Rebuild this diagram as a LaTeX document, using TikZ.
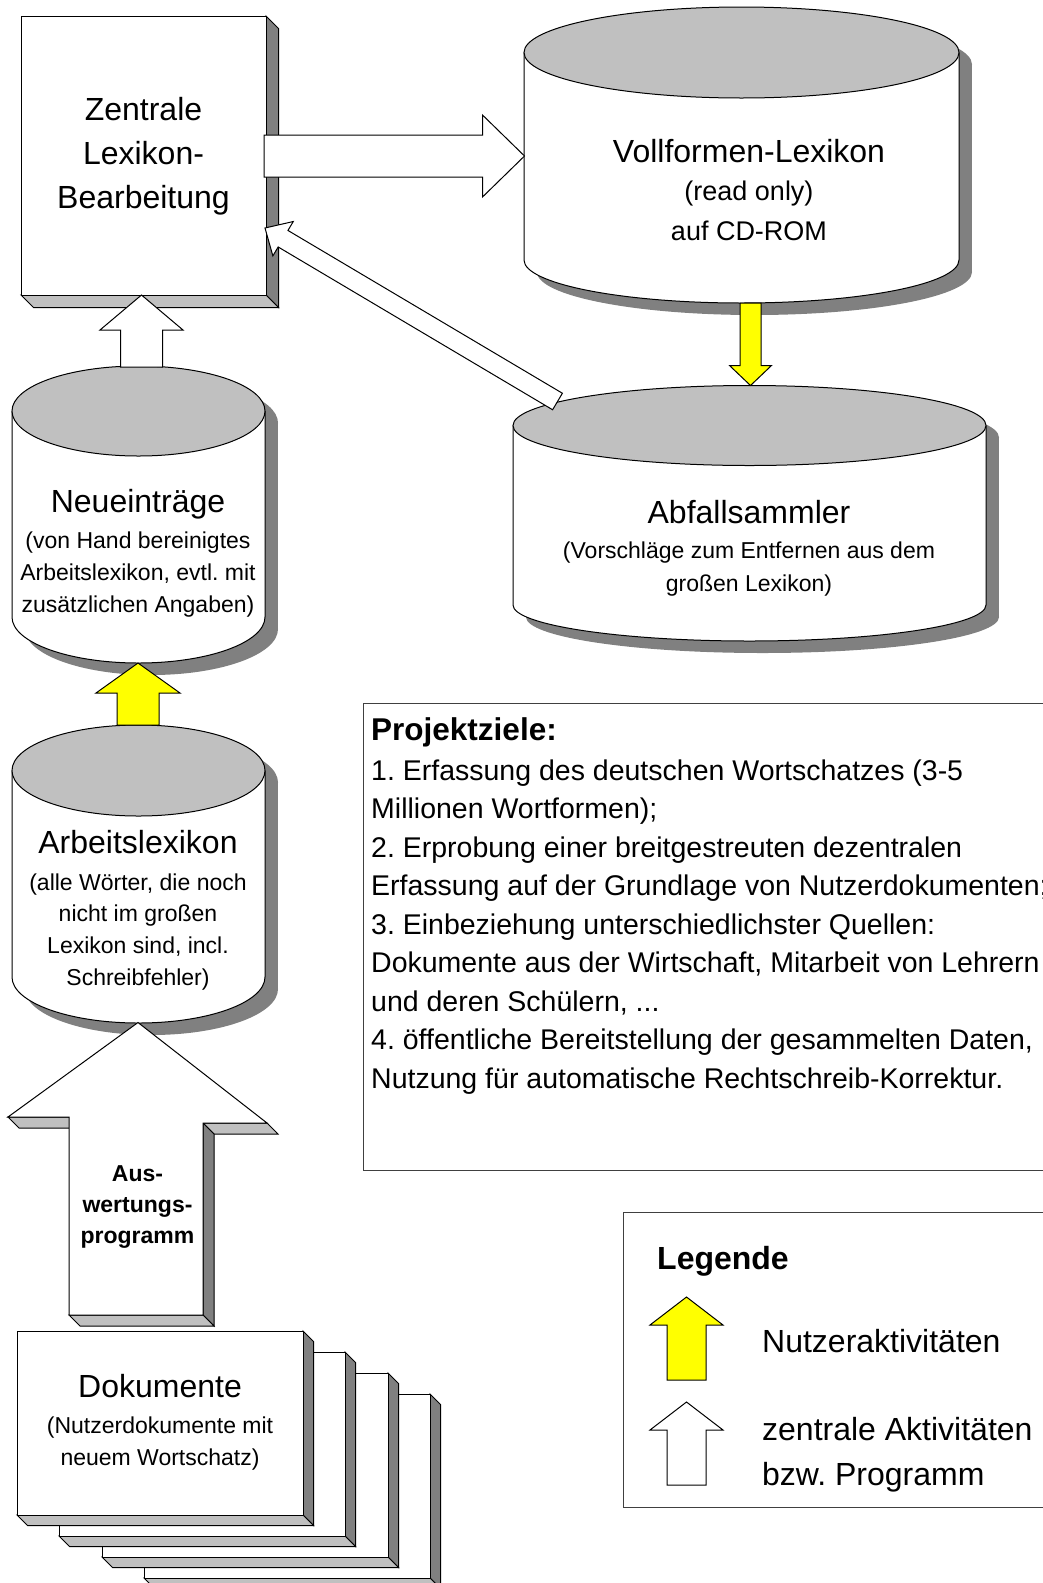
\documentclass[tikz,border=0pt]{standalone}
\usepackage{fontspec}
\setmainfont{Liberation Sans}
\usetikzlibrary{calc}
\definecolor{topgray}{HTML}{C0C0C0}
\definecolor{darkface}{HTML}{808080}
\definecolor{ylw}{HTML}{FFFF00}
\definecolor{framec}{HTML}{404040}
\frenchspacing
\newcommand\lns[1]{\begin{tabular}[t]{@{}c@{}}#1\end{tabular}}
\newcommand\lnsl[1]{\begin{tabular}[t]{@{}l@{}}#1\end{tabular}}
% fat block arrow: style, from, to, half shaft, half head, head length
\newcommand\fatarrow[6]{%
  \coordinate (fa-s) at (#2);
  \coordinate (fa-e) at (#3);
  \coordinate (fa-n) at ($(fa-e)!#6!(fa-s)$);
  \draw[#1] ($(fa-s)!#4!90:(fa-e)$) -- ($(fa-n)!#4!90:(fa-e)$) -- ($(fa-n)!#5!90:(fa-e)$) -- (fa-e)
    -- ($(fa-n)!#5!-90:(fa-e)$) -- ($(fa-n)!#4!-90:(fa-e)$) -- ($(fa-s)!#4!-90:(fa-e)$) -- cycle;
}
% cylinder: cx, ytop, ybot, rx, ry top, ry bottom
\newcommand\dbcyl[6]{%
  \begin{scope}[shift={(13,12)}]
    \fill[darkface] ({#1-#4},#2) rectangle ({#1+#4},#3);
    \fill[darkface] (#1,#2) ellipse[x radius=#4, y radius=#5];
    \fill[darkface] (#1,#3) ellipse[x radius=#4, y radius=#6];
  \end{scope}
  \fill[white] ({#1-#4},#2) -- ({#1-#4},#3) arc[start angle=180,end angle=0,x radius=#4,y radius=#6] -- ({#1+#4},#2) -- cycle;
  \draw[ln] ({#1-#4},#2) -- ({#1-#4},#3) arc[start angle=180,end angle=0,x radius=#4,y radius=#6] -- ({#1+#4},#2);
  \draw[ln, fill=topgray] (#1,#2) ellipse[x radius=#4, y radius=#5];
}
% 3D box: x1,y1,x2,y2,depth
\newcommand\boxthree[5]{%
  \draw[ln, fill=darkface] (#3,#2) -- ++(#5,#5) -- ({#3+#5},{#4+#5}) -- (#3,#4) -- cycle;
  \draw[ln, fill=topgray] (#1,#4) -- (#3,#4) -- ++(#5,#5) -- ({#1+#5},{#4+#5}) -- cycle;
  \draw[ln, fill=white] (#1,#2) rectangle (#3,#4);
}
\tikzset{
  ln/.style={draw=black, line width=1pt, line join=miter},
  frameline/.style={draw=framec, line width=1pt},
  ttl/.style={inner sep=0pt, anchor=base, font=\fontsize{32}{44}\selectfont},
  sub/.style={inner sep=0pt, anchor=base, font=\fontsize{23}{32}\selectfont},
}
\begin{document}
\begin{tikzpicture}[x=1pt,y=-1pt]
\clip (0,0) rectangle (1043,1583);
\fill[white] (0,0) rectangle (1043,1583);

% ---- Zentrale Lexikon-Bearbeitung
\boxthree{21}{16}{266}{295}{12.5}
\node[ttl] (zent) at (143.5,120) {\lns{Zentrale\\Lexikon-\\Bearbeitung}};

% ---- cylinders
\dbcyl{741.5}{52.5}{260}{217.5}{45.5}{43}
\node[ttl] (voll-title) at (749,162) {Vollformen-Lexikon};
\node[sub, font=\fontsize{27}{40}\selectfont] (voll-text) at (749,200) {\lns{(read only)\\auf CD-ROM}};

\dbcyl{749.5}{425.5}{605}{236.5}{40}{36}
\node[ttl] (abf-title) at (749,523) {Abfallsammler};
\node[sub, font=\fontsize{23}{33}\selectfont] (abf-text) at (749,558) {\lns{(Vorschläge zum Entfernen aus dem\\großen Lexikon)}};

\dbcyl{138.5}{411}{617}{126.5}{45}{46}
\node[ttl] (neu-title) at (138,512) {Neueinträge};
\node[sub] (neu-text) at (138,548) {\lns{(von Hand bereinigtes\\Arbeitslexikon, evtl. mit\\zusätzlichen Angaben)}};

\dbcyl{138.5}{770.5}{977}{126.5}{45.5}{46}
\node[ttl] (arb-title) at (138,853) {Arbeitslexikon};
\node[sub, font=\fontsize{23}{31.7}\selectfont] (arb-text) at (138,890) {\lns{(alle Wörter, die noch\\nicht im großen\\Lexikon sind, incl.\\Schreibfehler)}};

% ---- Dokumente stack
\boxthree{144}{1394}{430}{1578}{10.5}
\boxthree{102}{1373}{388}{1557}{10.5}
\boxthree{59}{1352}{345}{1536}{10.5}
\boxthree{17}{1331}{303}{1515}{10.5}
\node[ttl] (dok-title) at (160,1397) {Dokumente};
\node[sub] (dok-text) at (160,1433) {\lns{(Nutzerdokumente mit\\neuem Wortschatz)}};

% ---- connection points
\coordinate (zent-e) at (264,156);
\coordinate (voll-w) at (524.5,156);
\coordinate (zent-se) at (265,228);
\coordinate (abf-nw) at (557.5,401.5);
\coordinate (zent-s) at (141.5,295);
\coordinate (neu-n) at (141.5,367);
\coordinate (neu-s) at (138,663);
\coordinate (arb-n) at (138,725);
\coordinate (voll-s) at (750.5,303);
\coordinate (abf-n) at (750.5,385.5);
\coordinate (arb-bot) at (138,1022.5);
\coordinate (dok-n) at (136,1315);

% ---- arrows
\fatarrow{ln,fill=white}{zent-e}{voll-w}{21pt}{41pt}{42pt}
\fatarrow{ln,fill=white}{abf-nw}{zent-se}{9.6pt}{20pt}{21pt}
\fatarrow{ln,fill=white}{neu-n}{zent-s}{21pt}{41.5pt}{35pt}
\fatarrow{ln,fill=ylw}{arb-n}{neu-s}{21pt}{42pt}{30pt}
\fatarrow{ln,fill=ylw}{voll-s}{abf-n}{10.5pt}{21pt}{20pt}

% ---- big 3D program arrow (Dokumente -> Arbeitslexikon)
\draw[ln, fill=topgray] (8,1117) -- (69,1117) -- (80,1128) -- (19,1128) -- cycle;
\draw[ln, fill=topgray] (203,1123) -- (267,1123) -- (278,1134) -- (214,1134) -- cycle;
\draw[ln, fill=darkface] (203,1123) -- (214,1134) -- (214,1326) -- (203,1315) -- cycle;
\draw[ln, fill=topgray] (69,1315) -- (203,1315) -- (214,1326) -- (80,1326) -- cycle;
\draw[ln, fill=white] (arb-bot) -- (267,1123) -- (203,1123) -- (dok-n -| 203,0) -- (dok-n -| 69,0) -- (69,1117) -- (8,1117) -- cycle;
\node[sub, font={\fontsize{23}{31}\selectfont\bfseries}] (prog) at (137.5,1181) {\lns{Aus-\\wertungs-\\programm}};

% ---- Projektziele
\draw[frameline] (363,703) rectangle (1060,1170);
\node[anchor=base west, inner sep=0pt, font={\fontsize{31.5}{38}\selectfont\bfseries}] (proj-title) at (371,740) {Projektziele:};
\node[anchor=base west, inner sep=0pt, font=\fontsize{28.5}{38.5}\selectfont] (proj-text) at (371,780) {\lnsl{1. Erfassung des deutschen Wortschatzes (3-5\\Millionen Wortformen);\\2. Erprobung einer breitgestreuten dezentralen\\Erfassung auf der Grundlage von Nutzerdokumenten;\\3. Einbeziehung unterschiedlichster Quellen:\\Dokumente aus der Wirtschaft, Mitarbeit von Lehrern\\und deren Schülern, ...\\4. öffentliche Bereitstellung der gesammelten Daten,\\Nutzung für automatische Rechtschreib-Korrektur.}};

% ---- Legende
\draw[frameline] (623,1212) rectangle (1060,1507);
\node[anchor=base west, inner sep=0pt, font={\fontsize{32}{40}\selectfont\bfseries}] (leg-title) at (657,1269) {Legende};
\coordinate (ly-s) at (686.5,1380);
\coordinate (ly-e) at (686.5,1297);
\fatarrow{ln,fill=ylw}{ly-s}{ly-e}{19.5pt}{36.5pt}{28pt}
\coordinate (lw-s) at (686.5,1485);
\coordinate (lw-e) at (686.5,1402);
\fatarrow{ln,fill=white}{lw-s}{lw-e}{19.5pt}{36.5pt}{28pt}
\node[anchor=base west, inner sep=0pt, font=\fontsize{32}{45}\selectfont] (leg-user) at (762,1352) {Nutzeraktivitäten};
\node[anchor=base west, inner sep=0pt, font=\fontsize{32}{45}\selectfont] (leg-central) at (762,1440) {\lnsl{zentrale Aktivitäten\\bzw. Programm}};
\end{tikzpicture}
\end{document}
